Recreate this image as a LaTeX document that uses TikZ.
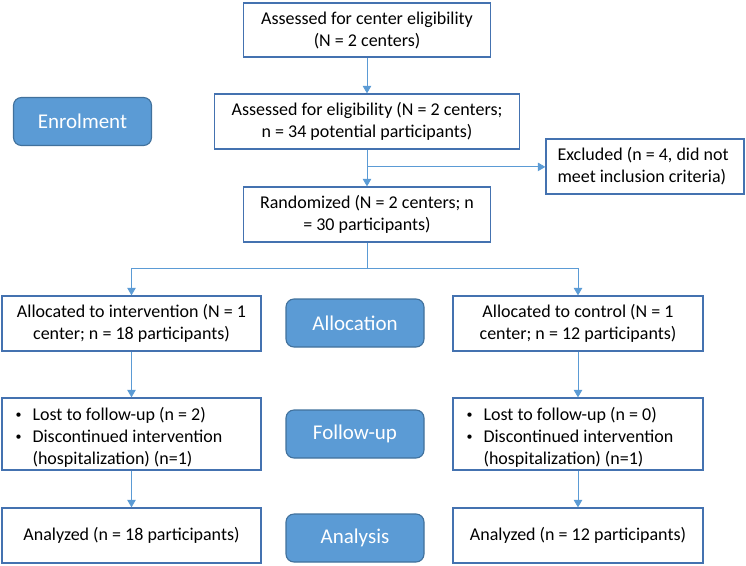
\documentclass[tikz,border=0pt]{standalone}
\usepackage{fontspec}
\setmainfont{Carlito}
\usetikzlibrary{arrows.meta,calc}
\definecolor{boxline}{RGB}{68,114,176}
\definecolor{conn}{RGB}{91,155,213}
\definecolor{phasefill}{RGB}{91,155,213}
\definecolor{phaseline}{RGB}{65,113,156}
\tikzset{
  flowbox/.style={draw=boxline, line width=1.3pt, fill=white, inner sep=0pt, align=center,
    font=\fontsize{18}{22}\selectfont},
  boxtext/.style={inner sep=0pt, align=left, anchor=west, font=\fontsize{18}{22}\selectfont},
  phasebox/.style={draw=phaseline, line width=1.1pt, fill=phasefill, rounded corners=8pt,
    text=white, inner sep=0pt, minimum width=138pt, minimum height=48pt,
    font=\fontsize{21}{25}\selectfont},
  conline/.style={draw=conn, line width=0.9pt},
  conarrow/.style={conline, -{Triangle[width=8.5pt,length=7.5pt]}}
}
\newcommand{\bul}{\makebox[19pt][l]{\hspace*{2pt}\raisebox{2pt}{\fontsize{12}{12}\selectfont\textbullet}}}
\begin{document}
\begin{tikzpicture}[x=1pt,y=-1pt]
\useasboundingbox (0,0) rectangle (746,565);
% main column
\node[flowbox, minimum width=247pt, minimum height=54pt] (b1) at (367,30)
  {Assessed for center eligibility\\(N = 2 centers)};
\node[flowbox, minimum width=305pt, minimum height=55pt] (b2) at (367,121.5)
  {Assessed for eligibility (N = 2 centers;\\n = 34 potential participants)};
\node[flowbox, minimum width=198pt, minimum height=55pt] (ex) at (645,166.5) {};
\node[boxtext] (ext) at ($(ex.west)+(12,0)$) {Excluded (n = 4, did not\\meet inclusion criteria)};
\node[flowbox, minimum width=247pt, minimum height=55pt] (b3) at (367,214.5)
  {Randomized (N = 2 centers; n\\= 30 participants)};
% phase labels
\node[phasebox] (enr) at (82.5,121.5) {Enrolment};
\node[phasebox] (alc) at (355,323) {Allocation};
\node[phasebox] (fol) at (355,434) {Follow-up};
\node[phasebox] (ana) at (355,538) {Analysis};
% allocation
\node[flowbox, minimum width=259pt, minimum height=55pt] (al) at (131.5,323.5)
  {Allocated to intervention (N = 1\\center; n = 18 participants)};
\node[flowbox, minimum width=250pt, minimum height=55pt] (ar) at (578,323.5)
  {Allocated to control (N = 1\\center; n = 12 participants)};
% follow-up
\node[flowbox, minimum width=259pt, minimum height=72pt] (fl) at (131.5,434) {};
\node[boxtext] (flt) at ($(fl.west)+(12,3)$)
  {\bul Lost to follow-up (n = 2)\\\bul Discontinued intervention\\\hspace*{19pt}(hospitalization) (n=1)};
\node[flowbox, minimum width=250pt, minimum height=72pt] (fr) at (578,434) {};
\node[boxtext] (frt) at ($(fr.west)+(12,3)$)
  {\bul Lost to follow-up (n = 0)\\\bul Discontinued intervention\\\hspace*{19pt}(hospitalization) (n=1)};
% analysis
\node[flowbox, minimum width=259pt, minimum height=55pt] (nl) at (131.5,535.5)
  {Analyzed (n = 18 participants)};
\node[flowbox, minimum width=250pt, minimum height=55pt] (nr) at (578,535.5)
  {Analyzed (n = 12 participants)};
% connectors
\coordinate (exj) at ($(b2.south)!0.47!(b3.north)$);
\coordinate (split) at ($(b3.south)+(0,26)$);
\draw[conarrow] (b1.south) -- (b2.north);
\draw[conarrow] (b2.south) -- (b3.north);
\draw[conarrow] (exj) -- (exj -| ex.west);
\draw[conline] (b3.south) -- (split);
\draw[conarrow] (split) -| (al.north);
\draw[conarrow] (split) -| (ar.north);
\draw[conarrow] (al.south) -- (fl.north);
\draw[conarrow] (ar.south) -- (fr.north);
\draw[conarrow] (fl.south) -- (nl.north);
\draw[conarrow] (fr.south) -- (nr.north);
\end{tikzpicture}
\end{document}
